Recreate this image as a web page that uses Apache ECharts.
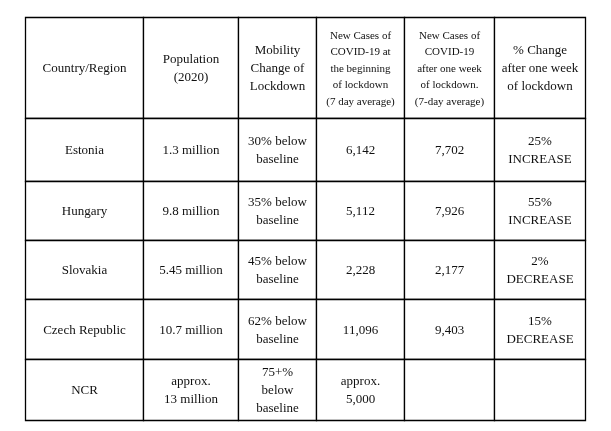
<!DOCTYPE html>
<html>
<head>
<meta charset="utf-8">
<script src="https://cdn.jsdelivr.net/npm/echarts@6/dist/echarts.min.js"></script>
<style>
  html, body { margin: 0; padding: 0; background: #ffffff; }
  #chart { width: 611px; height: 431px; }
</style>
</head>
<body>
<div id="chart"></div>
<script>
// ---- Data ----
const headers = [
  "Country/Region",
  "Population\n(2020)",
  "Mobility\nChange of\nLockdown",
  "New Cases of\nCOVID-19 at\nthe beginning\nof lockdown\n(7 day average)",
  "New Cases of\nCOVID-19\nafter one week\nof lockdown.\n(7-day average)",
  "% Change\nafter one week\nof lockdown"
];
const countries = ["Estonia", "Hungary", "Slovakia", "Czech Republic", "NCR"];
const population = ["1.3 million", "9.8 million", "5.45 million", "10.7 million", "approx.\n13 million"];
const mobility = ["30% below\nbaseline", "35% below\nbaseline", "45% below\nbaseline", "62% below\nbaseline", "75+%\nbelow\nbaseline"];
const casesStart = ["6,142", "5,112", "2,228", "11,096", "approx.\n5,000"];
const casesAfter = ["7,702", "7,926", "2,177", "9,403", ""];
const pctChange = ["25%\nINCREASE", "55%\nINCREASE", "2%\nDECREASE", "15%\nDECREASE", ""];

// ---- Layout (column / row boundaries in table units) ----
const colEdges = [0, 118, 213, 291, 379, 469, 560];
const rowEdges = [0, 101, 164, 223, 282, 342, 403];

const columns = [countries, population, mobility, casesStart, casesAfter, pctChange];
const cells = [];
headers.forEach((h, c) => cells.push([c, 0, h]));
for (let r = 0; r < countries.length; r++) {
  for (let c = 0; c < columns.length; c++) {
    cells.push([c, r + 1, columns[c][r]]);
  }
}

const chart = echarts.init(document.getElementById('chart'));
const FONT = "'Liberation Serif', 'DejaVu Serif', serif";

chart.setOption({
  backgroundColor: '#ffffff',
  animation: false,
  grid: { left: 25, right: 26, top: 17, bottom: 11 },
  xAxis: { type: 'value', min: 0, max: colEdges[colEdges.length - 1], show: false },
  yAxis: { type: 'value', min: 0, max: rowEdges[rowEdges.length - 1], inverse: true, show: false },
  series: [{
    type: 'custom',
    data: cells.map(d => ({ value: [d[0], d[1]], text: d[2] })),
    renderItem: function (params, api) {
      const c = api.value(0), r = api.value(1);
      const p0 = api.coord([colEdges[c], rowEdges[r]]);
      const p1 = api.coord([colEdges[c + 1], rowEdges[r + 1]]);
      const text = cells[params.dataIndex][2];
      const smallHeader = (r === 0 && (c === 3 || c === 4));
      const x0 = Math.round(p0[0]) + 0.5, y0 = Math.round(p0[1]) + 0.5;
      const x1 = Math.round(p1[0]) + 0.5, y1 = Math.round(p1[1]) + 0.5;
      return {
        type: 'group',
        children: [
          {
            type: 'rect',
            shape: { x: x0, y: y0, width: x1 - x0, height: y1 - y0 },
            style: { fill: '#ffffff', stroke: '#000000', lineWidth: 1.3 }
          },
          {
            type: 'text',
            style: {
              text: text,
              x: (x0 + x1) / 2,
              y: (y0 + y1) / 2 + 1,
              align: 'center',
              verticalAlign: 'middle',
              fontFamily: FONT,
              fontSize: smallHeader ? 11 : 13,
              lineHeight: smallHeader ? 16.5 : 18,
              fill: '#111111'
            }
          }
        ]
      };
    }
  }]
});
</script>
</body>
</html>
